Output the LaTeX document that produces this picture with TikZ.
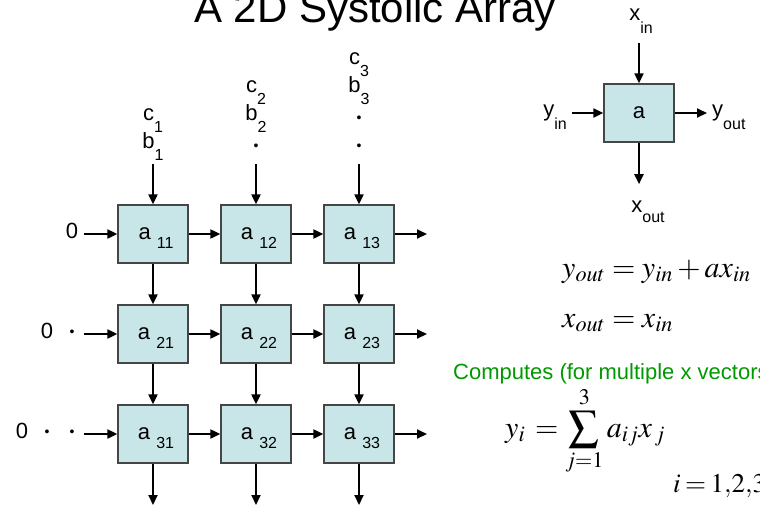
\documentclass[tikz,border=0pt]{standalone}
\usepackage{mathptmx}
\usepackage[no-math]{fontspec}
\setmainfont{Liberation Sans}
\usetikzlibrary{arrows.meta}

\definecolor{pefill}{RGB}{200,230,232}
\definecolor{peline}{RGB}{70,70,70}
\definecolor{compgreen}{RGB}{0,153,0}

% lowered subscript, as the slide sets it
\newcommand{\lo}[2][12pt]{\raisebox{-#1}{\fontsize{16}{16}\selectfont #2}}
\newcommand{\dotc}{{\fontsize{14}{14}\selectfont\raisebox{-2.5pt}{•}}}

\tikzset{
  pe/.style={draw=peline, line width=1.3pt, fill=pefill, minimum width=70pt, minimum height=58pt, inner sep=0pt},
  arr/.style={line width=2pt, -{Triangle[length=10pt,width=9pt]}},
  lbl/.style={inner sep=0pt},
}

\begin{document}
\begin{tikzpicture}[x=1pt,y=-1pt,font=\fontsize{22}{26}\selectfont]
  \useasboundingbox (0,0) rectangle (760,507);
  \clip (0,0) rectangle (760,507);
  \def\dx{103}
  \def\dy{100}
  % ---------------- title ----------------
  \node[lbl,font=\fontsize{42}{48}\selectfont,anchor=base] (title) at (375,22) {A 2D Systolic Array};
  % ---------------- 3x3 array ----------------
  \foreach \r in {1,2,3}{
    \foreach \c in {1,2,3}{
      \node[pe] (a\r\c) at (153+\dx*\c-\dx,234+\dy*\r-\dy) {\hspace{6pt}a \smash{\lo[9pt]{\r\c}}};
    }
  }
  \foreach \r in {1,2,3}{
    \foreach \c in {1,2}{
      \pgfmathtruncatemacro{\d}{\c+1}
      \draw[arr] (a\r\c) -- (a\r\d);
      \draw[arr] (a\c\r) -- (a\d\r);
    }
    \coordinate (w\r) at (84,234+\dy*\r-\dy);
    \coordinate (e\r) at (427,234+\dy*\r-\dy);
    \coordinate (n\r) at (153+\dx*\r-\dx,164);
    \coordinate (s\r) at (153+\dx*\r-\dx,505);
    \draw[arr] (w\r) -- (a\r1);
    \draw[arr] (a\r3) -- (e\r);
    \draw[arr] (n\r) -- (a1\r);
    \draw[arr] (a3\r) -- (s\r);
  }
  % ---------------- inputs ----------------
  \foreach \r in {1,2,3}{
    \node[lbl,anchor=base] (zero\r) at (97-25*\r,238+\dy*\r-\dy) {0};
  }
  \foreach \r/\k in {2/1,3/1,3/2}{
    \node[lbl,anchor=base,font=\fontsize{14}{14}\selectfont] (rd\r\k) at (97-25*\k,236+\dy*\r-\dy) {•};
  }
  \foreach \c/\lines in {1/{b\lo{1},c\lo{1}},2/{\dotc,b\lo{2},c\lo{2}},3/{\dotc,\dotc,b\lo{3},c\lo{3}}}{
    \foreach \t [count=\k from 0] in \lines {
      \node[lbl,anchor=base] (t\c\k) at (153+\dx*\c-\dx,148-28*\k) {\t};
    }
  }
  % ---------------- one cell ----------------
  \node[pe] (cell) at (639,113) {a};
  \node[lbl,anchor=base] (xin) at (641,20) {x\lo[13pt]{in}};
  \node[lbl,anchor=base east] (yin) at (567,116) {y\lo[13pt]{in}};
  \node[lbl,anchor=base west] (yout) at (712,116) {y\lo[13pt]{out}};
  \node[lbl,anchor=base] (xout) at (648,212) {x\lo[10pt]{out}};
  \draw[arr,shorten <=10pt] (xin.south -| cell.north) -- (cell.north);
  \draw[arr,shorten <=5pt] (yin.east |- cell.west) -- (cell.west);
  \draw[arr,shorten >=5pt] (cell.east) -- (yout.west |- cell.east);
  \draw[arr,shorten >=16pt] (cell.south) -- (xout.north -| cell.south);
  % ---------------- equations ----------------
  \node[lbl,anchor=base west,font=\fontsize{30}{36}\selectfont] (eqy) at (562,277) {$y_{out} = y_{in} + ax_{in}$};
  \node[lbl,anchor=base west,font=\fontsize{30}{36}\selectfont] (eqx) at (562,327) {$x_{out} = x_{in}$};
  \node[lbl,anchor=base west,text=compgreen] (comp) at (453,379) {Computes (for multiple x vectors)};
  \node[lbl,anchor=base west,font=\fontsize{30}{36}\selectfont] (sum) at (505,437) {$\displaystyle y_i \mkern2mu= \sum_{j=1}^{3} a_{ij}x_{\,j}$};
  \node[lbl,anchor=base west,font=\fontsize{27}{32}\selectfont] (irange) at (673,492) {$i\mkern3mu{=}\mkern3mu1{,}2{,}3$};
\end{tikzpicture}
\end{document}
